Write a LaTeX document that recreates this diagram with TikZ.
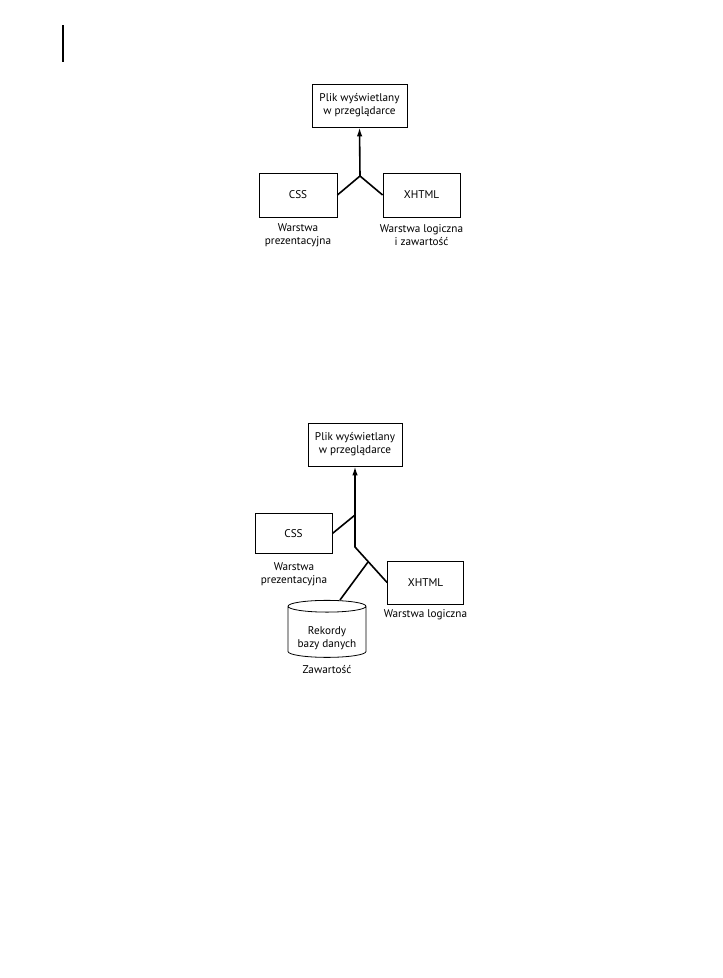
\documentclass[tikz,border=0pt]{standalone}
\usepackage{fontspec}
\setmainfont{PT Sans}
\usetikzlibrary{arrows.meta,calc,shapes.geometric}
\tikzset{
  box/.style={draw,line width=.8pt,inner sep=0pt},
  conn/.style={line width=1.6pt},
  lbl/.style={align=center,inner sep=0pt},
  tip/.style={-{Latex[length=9pt,width=5.5pt]}}
}
\begin{document}
\begin{tikzpicture}[x=1pt,y=-1pt,font=\fontsize{11.2}{13}\selectfont]
\useasboundingbox(0,0)rectangle(723,978);
\draw[line width=1.5pt](63,25)--(63,62);
% first diagram
\node[box,minimum width=95,minimum height=43,align=center](plik1)at(359.5,105.5){Plik wyświetlany\\w przeglądarce};
\node[box,minimum width=78,minimum height=44](css1)at(298,195){CSS};
\node[box,minimum width=77,minimum height=44](xhtml1)at(421.5,195){XHTML};
\coordinate(j1)at(360,176);
\draw[conn](css1.east)--(j1)--(xhtml1.west);\draw[conn,tip](j1)--(plik1.south);
\node[lbl](css1l)at(298,235){Warstwa\\prezentacyjna};
\node[lbl](xhtml1l)at(421.5,235){Warstwa logiczna\\i zawartość};
% second diagram
\node[box,minimum width=94,minimum height=43,align=center](plik2)at(355,444.5){Plik wyświetlany\\w przeglądarce};
\node[box,minimum width=77,minimum height=40](css2)at(293.5,533.5){CSS};
\node[box,minimum width=76,minimum height=43](xhtml2)at(425.5,582.5){XHTML};
\node[draw,line width=.8pt,cylinder,shape border rotate=90,aspect=0.2,minimum width=78,minimum height=57,inner sep=0pt](db)at(327,632){\phantom{\begin{tabular}{@{}c@{}}Rekordy\\bazy danych\end{tabular}}};
\node[lbl](dbt)at(327,638){Rekordy\\bazy danych};
\coordinate(j2a)at(355,515);\coordinate(j2b)at(355,547);\coordinate(j2c)at(368,562);
\draw[conn,tip](xhtml2.west)--(j2b)--(plik2.south);
\draw[conn](css2.east)--(j2a);\draw[conn]([xshift=13pt]db.north)--(j2c);
\node[lbl](css2l)at(294,574){Warstwa\\prezentacyjna};
\node[lbl](xhtml2l)at(425.5,615){Warstwa logiczna};
\node[lbl](dbl)at(327,670){Zawartość};
\end{tikzpicture}
\end{document}
